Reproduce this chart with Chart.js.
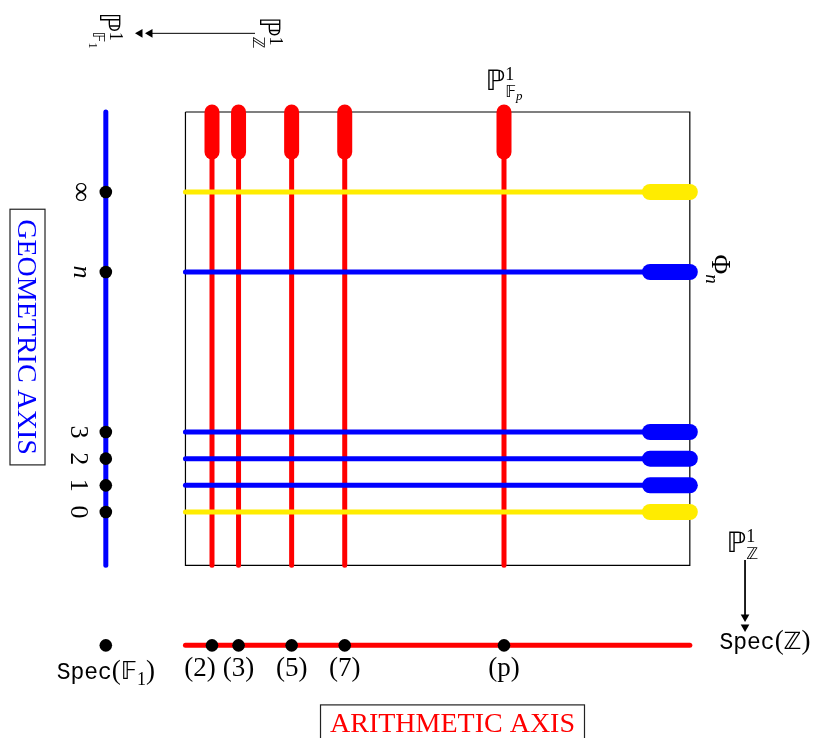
<!DOCTYPE html>
<html><head><meta charset="utf-8">
<script src="https://cdn.jsdelivr.net/npm/chart.js@4/dist/chart.umd.min.js"></script>
<style>html,body{margin:0;padding:0;background:#fff;}canvas{display:block;}</style>
</head><body>
<canvas id="c" width="813" height="738"></canvas>
<script>
// ---------------- DATA ----------------
// Arithmetic axis: closed points (p) of Spec(Z), placed along the axis
const primeLabels    = ['(2)', '(3)', '(5)', '(7)', '(p)'];
const primePositions = [2, 3, 5, 7, 13];
// Geometric axis: fibres indexed 0,1,2,3,...,n,...,∞
const geoLabels      = ['0', '1', '2', '3', 'n', '\u221E'];
const geoPositions   = [0, 1, 2, 3, 9, 12];
const geoFibreType   = ['special', 'generic', 'generic', 'generic', 'generic', 'special'];
// Extents of the square (arithmetic x geometric)
const arithSpan      = [1, 20];
const geoSpan        = [-2, 15];
const fibreEnd       = [13.5, 15];   // thick end of each vertical fibre P^1_{F_p}
const cyclotomicEnd  = [18.5, 20];   // thick end of each horizontal fibre Phi_n
const arithAxisLevel = -5;
const geoAxisLevel   = -2;
const specF1Point    = [-2, -5];

// ---------------- STYLE / LAYOUT ----------------
const COL = { red: '#ff0000', blue: '#0000ff', yellow: '#ffec00', black: '#000000' };
const fibreColor = { special: COL.yellow, generic: COL.blue };
const SERIF = '"Liberation Serif","Times New Roman",serif';
const DS    = '"DejaVu Sans","DejaVu Serif",sans-serif';
const MONO  = '"Liberation Mono","DejaVu Sans Mono",monospace';
const VIEW  = { xmin: -5.986, xmax: 24.64, ymin: -8.475, ymax: 19.2 };
const primeLabelShift = { '(2)': -0.45 };

const datasets = [];
function seg(points, color, width, order, cap) {
  datasets.push({
    data: points, showLine: true, borderColor: color, backgroundColor: color,
    borderWidth: width, borderCapStyle: cap || 'round', borderJoinStyle: 'miter',
    pointRadius: 0, pointHoverRadius: 0, order: order, fill: false, tension: 0
  });
}
const [a0, a1] = arithSpan, [g0, g1] = geoSpan;
// frame
seg([{x:a0,y:g1},{x:a1,y:g1},{x:a1,y:g0},{x:a0,y:g0},{x:a0,y:g1}], COL.black, 1.2, 9, 'butt');
// vertical fibres
primePositions.forEach(p => {
  seg([{x:p,y:g0},{x:p,y:g1}], COL.red, 5, 6);
  seg([{x:p,y:fibreEnd[0]},{x:p,y:fibreEnd[1]}], COL.red, 15, 5);
});
// horizontal fibres
geoPositions.forEach((g, i) => {
  const c = fibreColor[geoFibreType[i]];
  seg([{x:a0,y:g},{x:a1,y:g}], c, 5, 3);
  seg([{x:cyclotomicEnd[0],y:g},{x:cyclotomicEnd[1],y:g}], c, 16, 2);
});
// axes
seg([{x:geoAxisLevel,y:g0},{x:geoAxisLevel,y:g1}], COL.blue, 5, 4);
seg([{x:a0,y:arithAxisLevel},{x:a1,y:arithAxisLevel}], COL.red, 5, 4);
// dots
const dots = geoPositions.map(g => ({x: geoAxisLevel, y: g}))
  .concat(primePositions.map(p => ({x: p, y: arithAxisLevel})))
  .concat([{x: specF1Point[0], y: specF1Point[1]}]);
datasets.push({ data: dots, showLine: false, pointRadius: 6.3, pointHoverRadius: 6.3,
  backgroundColor: COL.black, borderWidth: 0, pointBorderWidth: 0, order: 0 });
// arrows: P^1_Z -> P^1_F1 (top), P^1_Z -> Spec(Z) (right)
const ARROW_TOP = { y: 17.95, from: 3.62, to: -0.45, heads: [-0.712, -0.336] };
const ARROW_RIGHT = { x: 22.08, from: -1.8, to: -4.0, heads: [-4.31, -3.94] };
seg([{x:ARROW_TOP.from,y:ARROW_TOP.y},{x:ARROW_TOP.to,y:ARROW_TOP.y}], COL.black, 1, 1, 'butt');
seg([{x:ARROW_RIGHT.x,y:ARROW_RIGHT.from},{x:ARROW_RIGHT.x,y:ARROW_RIGHT.to}], COL.black, 1, 1, 'butt');
datasets.push({ data: ARROW_TOP.heads.map(x => ({x, y: ARROW_TOP.y})), showLine: false,
  pointStyle: 'triangle', pointRotation: 270, pointRadius: 5, pointHoverRadius: 5,
  backgroundColor: COL.black, borderColor: COL.black, borderWidth: 0, order: 0 });
datasets.push({ data: ARROW_RIGHT.heads.map(y => ({x: ARROW_RIGHT.x, y})), showLine: false,
  pointStyle: 'triangle', pointRotation: 180, pointRadius: 5, pointHoverRadius: 5,
  backgroundColor: COL.black, borderColor: COL.black, borderWidth: 0, order: 0 });

// ---------------- TEXT ----------------
function R(t, font, size, dy, opt) { return Object.assign({t, font, size, dy: dy || 0}, opt || {}); }
const ROT = Math.PI / 2;
const labels = [];
// left geometric labels
geoLabels.forEach((t, i) => {
  const italic = t === 'n';
  labels.push({ x: -3.0, y: geoPositions[i], rot: ROT, color: COL.black, mid: t === '\u221E' ? 0.24 : (italic ? 0.22 : 0.33),
    runs: [R(t, SERIF, t === '\u221E' ? 28 : 26, 0, {italic})] });
});
// prime labels
primeLabels.forEach((t, i) => {
  labels.push({ x: primePositions[i] + (primeLabelShift[t] || 0), y: -5.85, rot: 0, color: COL.black, mid: 0.3,
    runs: [R(t, SERIF, 27)] });
});
// Spec(F1)
labels.push({ x: specF1Point[0], y: -6.0, rot: 0, color: COL.black, mid: 0.3,
  runs: [R('Spec', MONO, 23), R('(', SERIF, 27), R('\uD835\uDD3D', DS, 24), R('1', SERIF, 18, 6), R(')', SERIF, 27)] });
// Spec(Z)
labels.push({ x: 22.83, y: -4.875, rot: 0, color: COL.black, mid: 0.3,
  runs: [R('Spec', MONO, 23), R('(', SERIF, 27), R('\u2124', DS, 24), R(')', SERIF, 27)] });
// P^1_Z right
labels.push({ x: 21.98, y: -1.125, rot: 0, color: COL.black, mid: 0.36,
  runs: [R('\u2119', DS, 28), R('1', SERIF, 18, -10), R('\u2124', DS, 16, 7, {stack: true})] });
// P^1_{F_p}
labels.push({ x: 13, y: 16.2, rot: 0, color: COL.black, mid: 0.36,
  runs: [R('\u2119', DS, 28), R('1', SERIF, 18, -10), R('\uD835\uDD3D', DS, 16, 7, {stack: true}), R('p', SERIF, 13, 10, {italic: true})] });
// top-left P^1_{F_1} (rotated)
labels.push({ x: -1.84, y: 18.06, rot: ROT, color: COL.black, mid: 0.36,
  runs: [R('\u2119', DS, 28), R('1', SERIF, 18, -10), R('\uD835\uDD3D', DS, 16, 7, {stack: true}), R('1', SERIF, 12, 11)] });
// top P^1_Z (rotated)
labels.push({ x: 4.18, y: 17.98, rot: ROT, color: COL.black, mid: 0.36,
  runs: [R('\u2119', DS, 28), R('1', SERIF, 18, -10), R('\u2124', DS, 16, 7, {stack: true})] });
// Phi_n (rotated)
labels.push({ x: 21.17, y: 9.11, rot: ROT, color: COL.black, mid: 0.33,
  runs: [R('\u03A6', SERIF, 27), R('n', SERIF, 19, 6, {italic: true})] });
// axis titles in boxes
labels.push({ x: -4.95, y: 6.56, rot: ROT, color: COL.blue, mid: 0.33, box: {padX: 10, h: 35},
  runs: [R('GEOMETRIC AXIS', SERIF, 28)] });
labels.push({ x: 11.06, y: -7.89, rot: 0, color: COL.red, mid: 0.33, box: {padX: 9.5, h: 35},
  runs: [R('ARITHMETIC AXIS', SERIF, 28)] });

function fontOf(r) { return (r.italic ? 'italic ' : '') + r.size + 'px ' + r.font; }

const textPlugin = {
  id: 'textLabels',
  afterDatasetsDraw(chart) {
    const ctx = chart.ctx, xs = chart.scales.x, ys = chart.scales.y;
    labels.forEach(L => {
      const px = xs.getPixelForValue(L.x), py = ys.getPixelForValue(L.y);
      ctx.save();
      ctx.translate(px, py);
      ctx.rotate(L.rot);
      ctx.textBaseline = 'alphabetic';
      ctx.textAlign = 'left';
      let lastStart = 0, maxEnd = 0;
      const placed = L.runs.map(r => {
        ctx.font = fontOf(r);
        const w = ctx.measureText(r.t).width;
        const start = r.stack ? lastStart : maxEnd;
        if (!r.stack) lastStart = start;
        maxEnd = Math.max(maxEnd, start + w);
        return {r, start, w};
      });
      const total = maxEnd, x0 = -total / 2;
      const mainSize = L.runs[0].size;
      const base = L.mid * mainSize;
      if (L.box) {
        ctx.strokeStyle = '#222';
        ctx.lineWidth = 1.2;
        ctx.strokeRect(x0 - L.box.padX, -L.box.h / 2, total + 2 * L.box.padX, L.box.h);
      }
      ctx.fillStyle = L.color;
      placed.forEach(p => {
        ctx.font = fontOf(p.r);
        ctx.fillText(p.r.t, x0 + p.start, base + p.r.dy);
      });
      ctx.restore();
    });
  }
};

new Chart(document.getElementById('c'), {
  type: 'scatter',
  data: { datasets },
  options: {
    responsive: false, animation: false, events: [],
    layout: { padding: 0, autoPadding: false },
    plugins: { legend: { display: false }, tooltip: { enabled: false } },
    scales: {
      x: { type: 'linear', min: VIEW.xmin, max: VIEW.xmax, display: false },
      y: { type: 'linear', min: VIEW.ymin, max: VIEW.ymax, display: false }
    }
  },
  plugins: [textPlugin]
});
</script>
</body></html>
